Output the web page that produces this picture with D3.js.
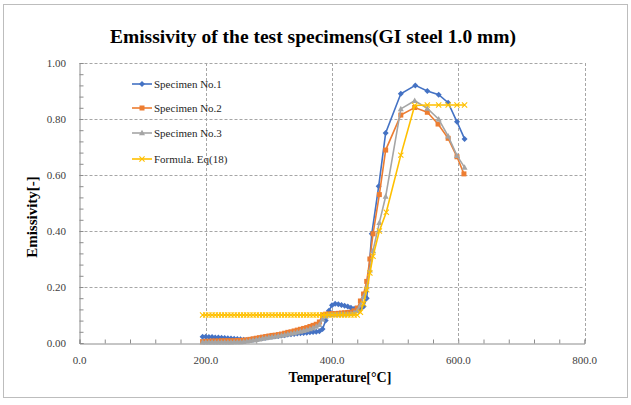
<!DOCTYPE html>
<html><head><meta charset="utf-8">
<script src="https://cdn.jsdelivr.net/npm/d3@7"></script>
<style>body{margin:0;background:#fff}svg{display:block}</style>
</head><body>
<script>
const seriesNames = ["Specimen No.1","Specimen No.2","Specimen No.3","Formula. Eq(18)"];
const xTicks = [0,200,400,600,800];
const yTicks = [0,0.2,0.4,0.6,0.8,1.0];

const s1T = [195,200,205,210,215,220,225,230,235,240,245,250,255,260,265,270,275,280,285,290,295,300,305,310,315,320,325,330,335,340,345,350,355,360,365,370,375,380,385,390,395,400,405,410,415,420,425,430,435,440,445,450,455,463,474,485,509,532,551,569,584,598,610];
const s1E = [0.022,0.022,0.021,0.021,0.020,0.020,0.019,0.018,0.017,0.016,0.015,0.014,0.013,0.012,0.011,0.011,0.012,0.014,0.016,0.018,0.019,0.021,0.022,0.024,0.025,0.027,0.028,0.030,0.031,0.032,0.034,0.035,0.036,0.037,0.038,0.039,0.040,0.042,0.050,0.080,0.115,0.135,0.140,0.138,0.136,0.133,0.130,0.126,0.122,0.120,0.122,0.130,0.160,0.390,0.560,0.750,0.890,0.920,0.900,0.887,0.858,0.790,0.729];

const s2T = [195,200,205,210,215,220,225,230,235,240,245,250,255,260,265,270,275,280,285,290,295,300,305,310,315,320,325,330,335,340,345,350,355,360,365,370,375,380,385,390,395,400,405,410,415,420,425,430,435,440,445,450,455,460,465,475,485,509,531,551,568,584,598,609];
const s2E = [0.005,0.006,0.006,0.007,0.007,0.007,0.008,0.008,0.008,0.008,0.008,0.009,0.009,0.010,0.011,0.013,0.015,0.017,0.019,0.021,0.023,0.025,0.027,0.028,0.030,0.032,0.035,0.038,0.040,0.043,0.046,0.049,0.052,0.055,0.059,0.063,0.067,0.075,0.100,0.103,0.104,0.105,0.105,0.106,0.107,0.108,0.109,0.110,0.115,0.125,0.150,0.175,0.220,0.300,0.390,0.530,0.689,0.814,0.841,0.824,0.782,0.731,0.665,0.604];

const s3T = [195,200,205,210,215,220,225,230,235,240,245,250,255,260,265,270,275,280,285,290,295,300,305,310,315,320,325,330,335,340,345,350,355,360,365,370,375,380,385,390,395,400,405,410,415,420,425,430,435,440,445,450,455,460,465,475,485,509,531,551,569,584,598,610];
const s3E = [0.003,0.003,0.003,0.003,0.003,0.003,0.003,0.003,0.003,0.003,0.004,0.004,0.004,0.005,0.006,0.008,0.010,0.012,0.014,0.016,0.018,0.020,0.022,0.023,0.025,0.027,0.029,0.031,0.034,0.036,0.039,0.041,0.044,0.047,0.050,0.054,0.059,0.065,0.085,0.095,0.100,0.101,0.102,0.102,0.103,0.103,0.104,0.105,0.108,0.115,0.135,0.165,0.200,0.260,0.330,0.430,0.523,0.836,0.865,0.838,0.799,0.739,0.669,0.627];

const fT = [195,200,205,210,215,220,225,230,235,240,245,250,255,260,265,270,275,280,285,290,295,300,305,310,315,320,325,330,335,340,345,350,355,360,365,370,375,380,385,390,395,400,405,410,415,420,425,430,435,440,445,450,455,460,465,475,486,509,531,551,569,584,598,610];
const fE = [0.10,0.10,0.10,0.10,0.10,0.10,0.10,0.10,0.10,0.10,0.10,0.10,0.10,0.10,0.10,0.10,0.10,0.10,0.10,0.10,0.10,0.10,0.10,0.10,0.10,0.10,0.10,0.10,0.10,0.10,0.10,0.10,0.10,0.10,0.10,0.10,0.10,0.10,0.10,0.10,0.10,0.10,0.10,0.10,0.10,0.10,0.10,0.10,0.10,0.10,0.11,0.14,0.19,0.25,0.31,0.40,0.467,0.671,0.848,0.85,0.85,0.85,0.85,0.85];

const colors = ["#4472C4","#ED7D31","#A5A5A5","#FFC000"];
const shapes = ["diamond","square","triangle","x"];

const W = 631, H = 405;
const L = 79.5, R = 584.5, T = 63, B = 343;
const svg = d3.select("body").append("svg").attr("width",W).attr("height",H);
svg.append("rect").attr("x",3.5).attr("y",4.5).attr("width",624).attr("height",393)
  .attr("fill","#fff").attr("stroke","#bdbdbd").attr("stroke-width",1);

const x = d3.scaleLinear().domain([0,800]).range([L,R]);
const y = d3.scaleLinear().domain([0,1]).range([B,T]);

const g = svg.append("g");
g.selectAll("line.h").data(yTicks.filter(d=>d>0)).enter().append("line")
  .attr("x1",L).attr("x2",R).attr("y1",d=>Math.round(y(d))+0.5).attr("y2",d=>Math.round(y(d))+0.5)
  .attr("stroke","#a6a6a6").attr("stroke-dasharray","3,2");
g.selectAll("line.v").data(xTicks.filter(d=>d>0)).enter().append("line")
  .attr("y1",T).attr("y2",B).attr("x1",d=>Math.round(x(d))+0.5).attr("x2",d=>Math.round(x(d))+0.5)
  .attr("stroke","#a6a6a6").attr("stroke-dasharray","3,2");

const xAxis = d3.axisBottom(x).tickValues(d3.range(0,801,40)).tickSize(-4).tickFormat("");
const xa = svg.append("g").attr("transform",`translate(0,${B+0.5})`).call(xAxis);
xa.select(".domain").attr("stroke","#8c8c8c");
xa.selectAll(".tick line").attr("stroke","#8c8c8c");
const yAxis = d3.axisLeft(y).tickValues(d3.range(0,1.001,0.04)).tickSize(-4).tickFormat("");
const ya = svg.append("g").attr("transform",`translate(${L},0)`).call(yAxis);
ya.select(".domain").attr("stroke","#8c8c8c");
ya.selectAll(".tick line").attr("stroke","#8c8c8c");

const font = "'Liberation Serif','Times New Roman',serif";
svg.selectAll("text.xt").data(xTicks).enter().append("text")
  .attr("x",d=>x(d)).attr("y",364).attr("text-anchor","middle")
  .attr("font-family",font).attr("font-size",11).attr("fill","#404040")
  .text(d=>d3.format(".1f")(d));
svg.selectAll("text.yt").data(yTicks).enter().append("text")
  .attr("x",66).attr("y",d=>y(d)+4).attr("text-anchor","end")
  .attr("font-family",font).attr("font-size",11).attr("fill","#404040")
  .text(d=>d3.format(".2f")(d));

svg.append("text").attr("x",313).attr("y",43).attr("text-anchor","middle")
  .attr("font-family",font).attr("font-weight","bold").attr("font-size",19.5).attr("fill","#000")
  .text("Emissivity of the test specimens(GI steel 1.0 mm)");
svg.append("text").attr("x",340).attr("y",382).attr("text-anchor","middle")
  .attr("font-family",font).attr("font-weight","bold").attr("font-size",14).attr("fill","#000")
  .text("Temperature[°C]");
svg.append("text").attr("transform","translate(37,217) rotate(-90)").attr("text-anchor","middle")
  .attr("font-family",font).attr("font-weight","bold").attr("font-size",15).attr("fill","#000")
  .text("Emissivity[-]");

function marker(sel, shape, color, cx, cy){
  if(shape==="diamond"){
    sel.append("path").attr("d",`M${cx},${cy-3}L${cx+3},${cy}L${cx},${cy+3}L${cx-3},${cy}Z`).attr("fill",color);
  } else if(shape==="square"){
    sel.append("rect").attr("x",cx-2.5).attr("y",cy-2.5).attr("width",5).attr("height",5).attr("fill",color);
  } else if(shape==="triangle"){
    sel.append("path").attr("d",`M${cx},${cy-3.2}L${cx+3},${cy+2.3}L${cx-3},${cy+2.3}Z`).attr("fill",color);
  } else {
    sel.append("path").attr("d",`M${cx-2.6},${cy-2.6}L${cx+2.6},${cy+2.6}M${cx-2.6},${cy+2.6}L${cx+2.6},${cy-2.6}`)
      .attr("stroke",color).attr("stroke-width",1.1).attr("fill","none");
  }
}

const series = [[s1T,s1E],[s2T,s2E],[s3T,s3E],[fT,fE]];
const line = d3.line().x(d=>x(d[0])).y(d=>y(d[1]));
series.forEach((s,i)=>{
  const pts = s[0].map((t,j)=>[t,s[1][j]]);
  const gg = svg.append("g");
  gg.append("path").datum(pts).attr("d",line).attr("fill","none")
    .attr("stroke",colors[i]).attr("stroke-width",1.6);
  pts.forEach(p=>marker(gg, shapes[i], colors[i], x(p[0]), y(p[1])));
});

const legY = [84,108,133,159];
seriesNames.forEach((n,i)=>{
  const lg = svg.append("g");
  lg.append("line").attr("x1",132).attr("x2",152).attr("y1",legY[i]).attr("y2",legY[i])
    .attr("stroke",colors[i]).attr("stroke-width",1.6);
  marker(lg, shapes[i], colors[i], 142, legY[i]);
  lg.append("text").attr("x",154).attr("y",legY[i]+4).attr("font-family",font).attr("font-size",11)
    .attr("fill","#262626").text(n);
});
</script>
</body></html>
